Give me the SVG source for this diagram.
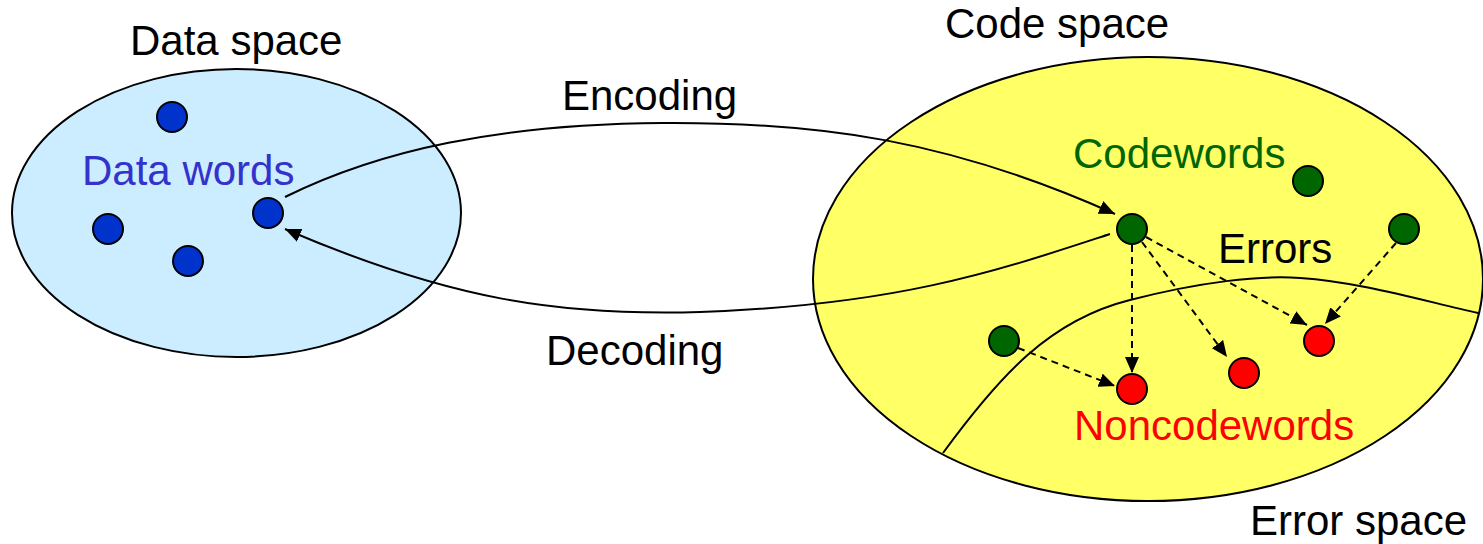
<svg xmlns="http://www.w3.org/2000/svg" width="1483" height="544" viewBox="0 0 1483 544">
  <defs>
    <style>
      .lbl { font-family: "Liberation Sans", Arial, sans-serif; font-size: 42px; fill: #000; }
      .space { stroke: #000; stroke-width: 2; }
      .dot { stroke: #000; stroke-width: 2; }
      .blue { fill: #0033CC; }
      .green { fill: #006600; }
      .red { fill: #FF0000; }
      .curve { fill: none; stroke: #000; stroke-width: 2; }
      .err { fill: none; stroke: #000; stroke-width: 2; stroke-dasharray: 7 5; }
    </style>
    <marker id="head" markerUnits="userSpaceOnUse" markerWidth="17" markerHeight="14" refX="16" refY="7" orient="auto">
      <path d="M0,0 L16,7 L0,14 z" fill="#000"/>
    </marker>
  </defs>

  <rect width="1483" height="544" fill="#fff"/>

  <!-- data space -->
  <g id="data-space">
    <ellipse class="space" cx="236.5" cy="213" rx="224.5" ry="144" fill="#CCECFF"/>
    <text class="lbl" x="130" y="55">Data space</text>
    <text class="lbl" x="82" y="185" style="fill:#3333CC">Data words</text>
  </g>

  <!-- code space -->
  <g id="code-space">
    <ellipse class="space" cx="1148" cy="279" rx="335" ry="222" fill="#FFFF66"/>
    <text class="lbl" x="945" y="38">Code space</text>
    <text class="lbl" x="1073" y="168" style="fill:#006600">Codewords</text>
    <text class="lbl" x="1218" y="263">Errors</text>
    <text class="lbl" x="1074" y="440" style="fill:#FF0000">Noncodewords</text>
    <text class="lbl" x="1250" y="535">Error space</text>
  </g>

  <!-- boundary of the error space -->
  <g id="error-boundary">
    <path class="curve" d="M943,453 C1000,375 1050,320 1130,300 C1200,282 1260,275 1300,278 C1360,282 1420,300 1478,313"/>
  </g>

  <!-- data words -->
  <g id="data-words">
    <circle class="dot blue" cx="172" cy="117" r="15"/>
    <circle class="dot blue" cx="108" cy="229" r="15"/>
    <circle class="dot blue" cx="188" cy="261" r="15"/>
    <circle class="dot blue" cx="268" cy="213" r="15"/>
  </g>

  <!-- codewords -->
  <g id="codewords">
    <circle class="dot green" cx="1132" cy="229" r="15"/>
    <circle class="dot green" cx="1308" cy="181" r="15"/>
    <circle class="dot green" cx="1404" cy="229" r="15"/>
    <circle class="dot green" cx="1004" cy="341" r="15"/>
  </g>

  <!-- noncodewords -->
  <g id="noncodewords">
    <circle class="dot red" cx="1132" cy="389" r="15"/>
    <circle class="dot red" cx="1244" cy="373" r="15"/>
    <circle class="dot red" cx="1319" cy="341" r="15"/>
  </g>

  <!-- connectors -->
  <g id="connectors">
    <path id="encoding" class="curve" marker-end="url(#head)" d="M285,197 C380,150 500,124 663,123 C820,122 950,140 1115,214"/>
    <text class="lbl" x="562" y="110">Encoding</text>
    <path id="decoding" class="curve" marker-end="url(#head)" d="M1110,234 C1000,270 900,305 700,312 C560,316 450,300 285,229"/>
    <text class="lbl" x="546" y="365">Decoding</text>

    <path class="err" marker-end="url(#head)" d="M1132,245 L1132,373"/>
    <path class="err" marker-end="url(#head)" d="M1142,242 L1227,357"/>
    <path class="err" marker-end="url(#head)" d="M1146,237 L1307,325"/>
    <path class="err" marker-end="url(#head)" d="M1396,243 L1325,324"/>
    <path class="err" marker-end="url(#head)" d="M1018,348 L1115,386"/>
  </g>
</svg>
